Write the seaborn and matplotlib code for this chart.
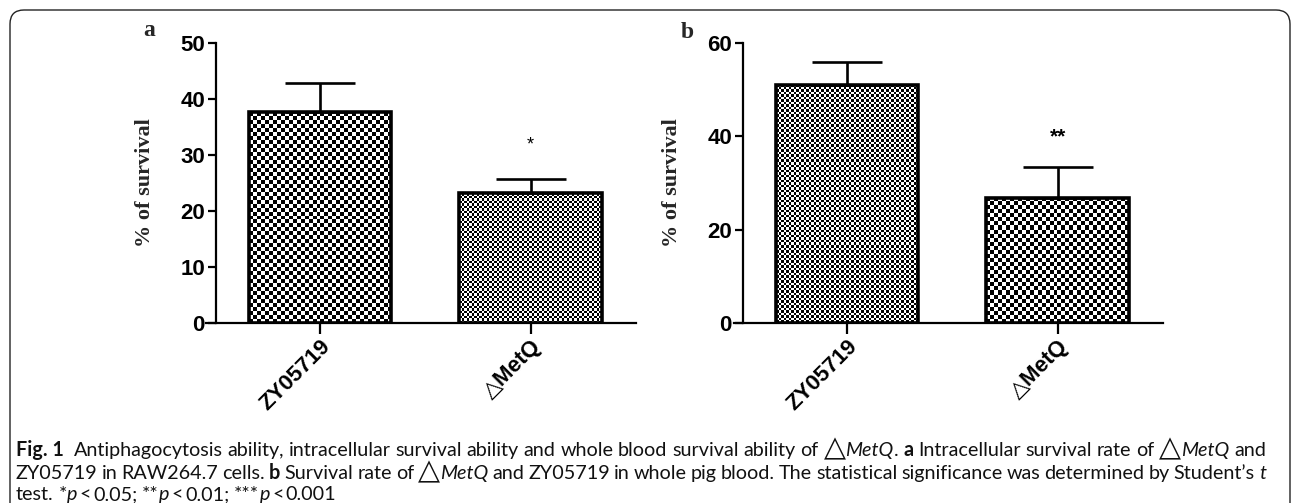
import numpy as np
import pandas as pd
import matplotlib
matplotlib.use("Agg")
import matplotlib.pyplot as plt
import seaborn as sns
from matplotlib.transforms import IdentityTransform
from matplotlib.patches import FancyBboxPatch

# ---------------- data ----------------
strains = ["ZY05719", "△MetQ"]
survival_a = [37.6, 23.2]
error_a = [5.2, 2.5]
survival_b = [51.1, 26.8]
error_b = [4.9, 6.6]
sig_a, sig_a_y = "*", 31.8
sig_b, sig_b_y = "**", 39.9
yticks_a = [0, 10, 20, 30, 40, 50]
yticks_b = [0, 20, 40, 60]
ylabel = "% of survival"

sns.set_theme(style="ticks")
plt.rcParams["font.family"] = ["Liberation Sans", "DejaVu Sans"]

W, H = 1293, 503
fig = plt.figure(figsize=(W / 100, H / 100), dpi=100)
fig.patch.set_facecolor("white")


def px_axes(left, right, top, bottom):
    return fig.add_axes([left / W, (H - bottom) / H, (right - left) / W, (bottom - top) / H])


def checker_fill(ax, bar, cell):
    x0 = bar.get_x()
    x1 = x0 + bar.get_width()
    h = bar.get_height()
    p0 = ax.transData.transform((x0, 0))
    p1 = ax.transData.transform((x1, h))
    nx = max(1, int(round((p1[0] - p0[0]) / cell)))
    ny = max(1, int(round((p1[1] - p0[1]) / cell)))
    arr = np.add.outer(np.arange(ny), np.arange(nx)) % 2
    im = ax.imshow(arr, extent=(x0, x1, 0, h), cmap="gray", vmin=0, vmax=1,
                   interpolation="nearest", aspect="auto", zorder=0.8, origin="lower")
    im.set_clip_path(bar)


def panel(ax, vals, errs, ymax, yticks, xlim, spine_x, cells, sig, sig_y, sig_size,
          sig_weight, letter, letter_px, ylabel_px):
    df = pd.DataFrame({"strain": strains, "survival": vals})
    sns.barplot(data=df, x="strain", y="survival", ax=ax, width=0.675, color="white",
                edgecolor="black", linewidth=2.6, errorbar=None, saturation=1)
    ax.set_xlim(*xlim)
    ax.set_ylim(0, ymax)
    bars = list(ax.patches)
    xs = [b.get_x() + b.get_width() / 2 for b in bars]
    for b, c in zip(bars, cells):
        b.set_facecolor("none")
        b.set_zorder(2)
        checker_fill(ax, b, c)
    ax.errorbar(xs, vals, yerr=[np.zeros(len(vals)), errs], fmt="none", ecolor="black",
                elinewidth=1.9, capsize=25, capthick=1.9, zorder=3)
    ax.set_xlim(*xlim)
    ax.set_ylim(0, ymax)
    ax.set_aspect("auto")

    sns.despine(ax=ax)
    ax.spines["left"].set_position(("data", spine_x))
    for s in ("left", "bottom"):
        ax.spines[s].set_linewidth(1.6)
        ax.spines[s].set_color("black")
    ax.set_yticks(yticks)
    ax.set_yticklabels([str(t) for t in yticks], fontfamily=["Liberation Sans Narrow", "Liberation Sans"],
                       fontweight="bold", fontsize=16)
    ax.tick_params(axis="y", direction="out", length=6, width=1.6, pad=2, colors="black")
    ax.tick_params(axis="x", direction="out", length=8, width=1.6, pad=1, colors="black")
    ax.set_xticks(range(len(strains)))
    ax.set_xticklabels(strains, rotation=45, ha="right", va="top", rotation_mode="anchor",
                       fontweight="bold", fontsize=16,
                       fontfamily=["Liberation Sans", "DejaVu Sans"])
    ax.set_xlabel("")
    ax.set_ylabel(ylabel, fontfamily="Liberation Serif", fontweight="bold", fontsize=16)
    l, b_, w_, h_ = ax.get_position().bounds
    ax.yaxis.set_label_coords((ylabel_px / W - l) / w_, 0.5)
    ax.text(1, sig_y, sig, ha="center", va="center", fontsize=sig_size, fontweight=sig_weight,
            color="black")
    fig.text(letter_px[0], H - letter_px[1], letter, transform=IdentityTransform(),
             ha="center", va="center", fontfamily="Liberation Serif", fontweight="bold",
             fontsize=17)


ax_a = px_axes(206, 636, 43, 323)
ax_b = px_axes(734, 1163, 43, 323)

panel(ax_a, survival_a, error_a, 50, yticks_a, (-0.5416, 1.501), -0.494, (4, 2.5),
      sig_a, sig_a_y, 13, "normal", "a", (149, 30), 155)
panel(ax_b, survival_b, error_b, 60, yticks_b, (-0.537, 1.501), -0.494, (2.5, 4),
      sig_b, sig_b_y, 15, "bold", "b", (687, 33), 682)

# ---------------- border ----------------
border = FancyBboxPatch((10, -40), 1280, H - 10 + 40,
                        boxstyle="round,pad=0,rounding_size=14",
                        transform=IdentityTransform(), fill=False,
                        edgecolor="#222222", linewidth=1.0)
fig.add_artist(border)

# ---------------- caption ----------------
cap_family = ["Lato", "DejaVu Sans"]
renderer = fig.canvas.get_renderer()


def props(style, size):
    p = dict(fontsize=size, fontfamily=cap_family, color="#111111")
    if style == "b":
        p["fontweight"] = "bold"
    elif style == "i":
        p["fontstyle"] = "italic"
    elif style == "t":
        p["fontfamily"] = ["DejaVu Sans"]
        p["fontsize"] = size * 1.45
    return p


def measure(text, style, size):
    t = fig.text(0, 0, text, transform=IdentityTransform(), **props(style, size))
    w = t.get_window_extent(renderer).width
    t.remove()
    return w


def natural(tokens, size):
    sp = measure("a a", "n", size) - measure("aa", "n", size)
    words = sum(measure(tx, st, size) for tx, st, g in tokens)
    gaps = sum(g for tx, st, g in tokens)
    return words, gaps, sp


line1 = [("Fig. 1", "b", 0), ("Antiphagocytosis", "n", 2), ("ability,", "n", 1),
         ("intracellular", "n", 1), ("survival", "n", 1), ("ability", "n", 1), ("and", "n", 1),
         ("whole", "n", 1), ("blood", "n", 1), ("survival", "n", 1), ("ability", "n", 1),
         ("of", "n", 1), ("△", "t", 1), ("MetQ", "i", 0), (".", "n", 0), ("a", "b", 1),
         ("Intracellular", "n", 1), ("survival", "n", 1), ("rate", "n", 1), ("of", "n", 1),
         ("△", "t", 1), ("MetQ", "i", 0), ("and", "n", 1)]
line2 = [("ZY05719", "n", 0), ("in", "n", 1), ("RAW264.7", "n", 1), ("cells.", "n", 1),
         ("b", "b", 1), ("Survival", "n", 1), ("rate", "n", 1), ("of", "n", 1), ("△", "t", 1),
         ("MetQ", "i", 0), ("and", "n", 1), ("ZY05719", "n", 1), ("in", "n", 1),
         ("whole", "n", 1), ("pig", "n", 1), ("blood.", "n", 1), ("The", "n", 1),
         ("statistical", "n", 1), ("significance", "n", 1), ("was", "n", 1),
         ("determined", "n", 1), ("by", "n", 1), ("Student’s", "n", 1), ("t", "i", 1)]
line3 = [("test.", "n", 0), ("*", "n", 1), ("p", "i", 0), ("<", "n", 0.4), ("0.05;", "n", 0.4),
         ("**", "n", 1), ("p", "i", 0), ("<", "n", 0.4), ("0.01;", "n", 0.4),
         ("***", "n", 1), ("p", "i", 0), ("<", "n", 0.4), ("0.001", "n", 0.4)]

x_left, x_right = 16, 1266
base = 12.0
w0, g0, s0 = natural(line1, base)
size = base * (x_right - x_left) / (w0 + g0 * s0)
size = min(size, 15.0)


def draw_line(tokens, y, justify):
    words, gaps, sp = natural(tokens, size)
    if justify:
        sp = (x_right - x_left - words) / gaps
    x = x_left
    for tx, st, g in tokens:
        x += g * sp
        t = fig.text(x, y, tx, transform=IdentityTransform(), ha="left", va="baseline",
                     **props(st, size))
        x += t.get_window_extent(renderer).width


draw_line(line1, H - 456, True)
draw_line(line2, H - 479, True)
draw_line(line3, H - 500, False)

fig.savefig("out.png", dpi=100, facecolor="white")
